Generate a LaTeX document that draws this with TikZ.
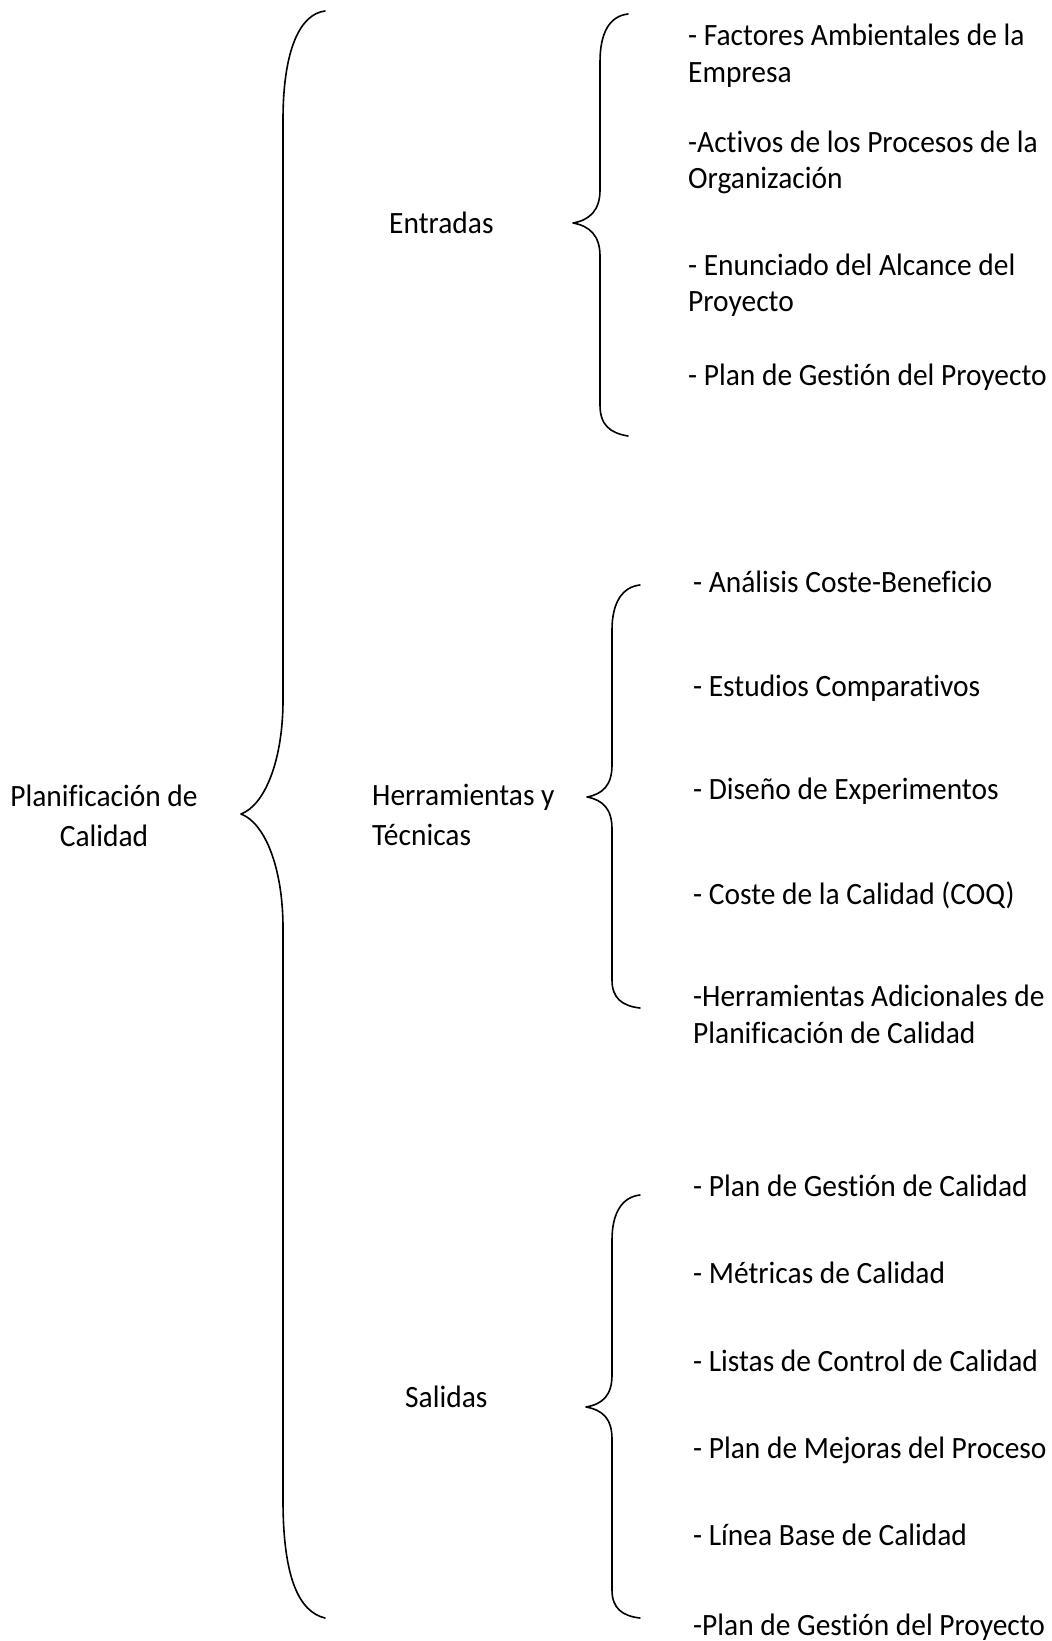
\documentclass[tikz,border=0pt]{standalone}
\usepackage{fontspec}
\setmainfont{Carlito}[FakeStretch=0.95,Ligatures=NoCommon]
\begin{document}
\begin{tikzpicture}[x=1pt,y=-1pt,
  txt/.style={anchor=base west,inner sep=0pt,font=\fontsize{31}{37}\selectfont},
  ctxt/.style={anchor=base,inner sep=0pt,font=\fontsize{31}{37}\selectfont},
  brace/.style={line width=1.6pt,line cap=round,line join=round}]
\useasboundingbox (0,0) rectangle (1052,1641);
% labels
\node[ctxt] (p1) at (104,806) {Planificación de};
\node[ctxt] (p2) at (104,846) {Calidad};
\node[txt] (ent) at (389,233) {Entradas};
\node[txt] (her1) at (372,805) {Herramientas y};
\node[txt] (her2) at (372,845) {Técnicas};
\node[txt] (sal) at (405,1407) {Salidas};
% entradas items
\node[txt] (e1a) at (688,45) {- Factores Ambientales de la};
\node[txt] (e1b) at (688,82) {Empresa};
\node[txt] (e2a) at (688,152) {-Activos de los Procesos de la};
\node[txt] (e2b) at (688,188) {Organización};
\node[txt] (e3a) at (688,275) {- Enunciado del Alcance del};
\node[txt] (e3b) at (688,311) {Proyecto};
\node[txt] (e4) at (688,385) {- Plan de Gestión del Proyecto};
% herramientas items
\node[txt] (h1) at (693,592) {- Análisis Coste-Beneficio};
\node[txt] (h2) at (693,696) {- Estudios Comparativos};
\node[txt] (h3) at (693,799) {- Diseño de Experimentos};
\node[txt] (h4) at (693,904) {- Coste de la Calidad (COQ)};
\node[txt] (h5a) at (693,1006) {-Herramientas Adicionales de};
\node[txt] (h5b) at (693,1043) {Planificación de Calidad};
% salidas items
\node[txt] (s1) at (693,1196) {- Plan de Gestión de Calidad};
\node[txt] (s2) at (693,1283) {- Métricas de Calidad};
\node[txt] (s3) at (693,1371) {- Listas de Control de Calidad};
\node[txt] (s4) at (693,1458) {- Plan de Mejoras del Proceso};
\node[txt] (s5) at (693,1545) {- Línea Base de Calidad};
\node[txt] (s6) at (693,1635) {-Plan de Gestión del Proyecto};
% big brace
\draw[brace] (325,11) .. controls (300,14) and (283,50) .. (283,120) -- (283,700)
  .. controls (283,760) and (265,805) .. (241,814)
  .. controls (265,823) and (283,868) .. (283,928) -- (283,1500)
  .. controls (283,1580) and (300,1612) .. (325,1618);
% entradas brace
\draw[brace] (628,14) .. controls (610,16) and (600,32) .. (600,62) -- (600,190)
  .. controls (600,210) and (590,220) .. (573,223)
  .. controls (590,226) and (600,236) .. (600,256) -- (600,405)
  .. controls (600,425) and (610,433) .. (628,436);
% herramientas brace
\draw[brace] (640,585) .. controls (622,587) and (612,603) .. (612,630) -- (612,765)
  .. controls (612,785) and (603,794) .. (587,797)
  .. controls (603,800) and (612,809) .. (612,829) -- (612,980)
  .. controls (612,998) and (622,1006) .. (640,1008);
% salidas brace
\draw[brace] (640,1195) .. controls (622,1197) and (612,1213) .. (612,1240) -- (612,1375)
  .. controls (612,1395) and (603,1404) .. (586,1407)
  .. controls (603,1410) and (612,1419) .. (612,1439) -- (612,1590)
  .. controls (612,1608) and (622,1616) .. (640,1618);
\end{tikzpicture}
\end{document}
